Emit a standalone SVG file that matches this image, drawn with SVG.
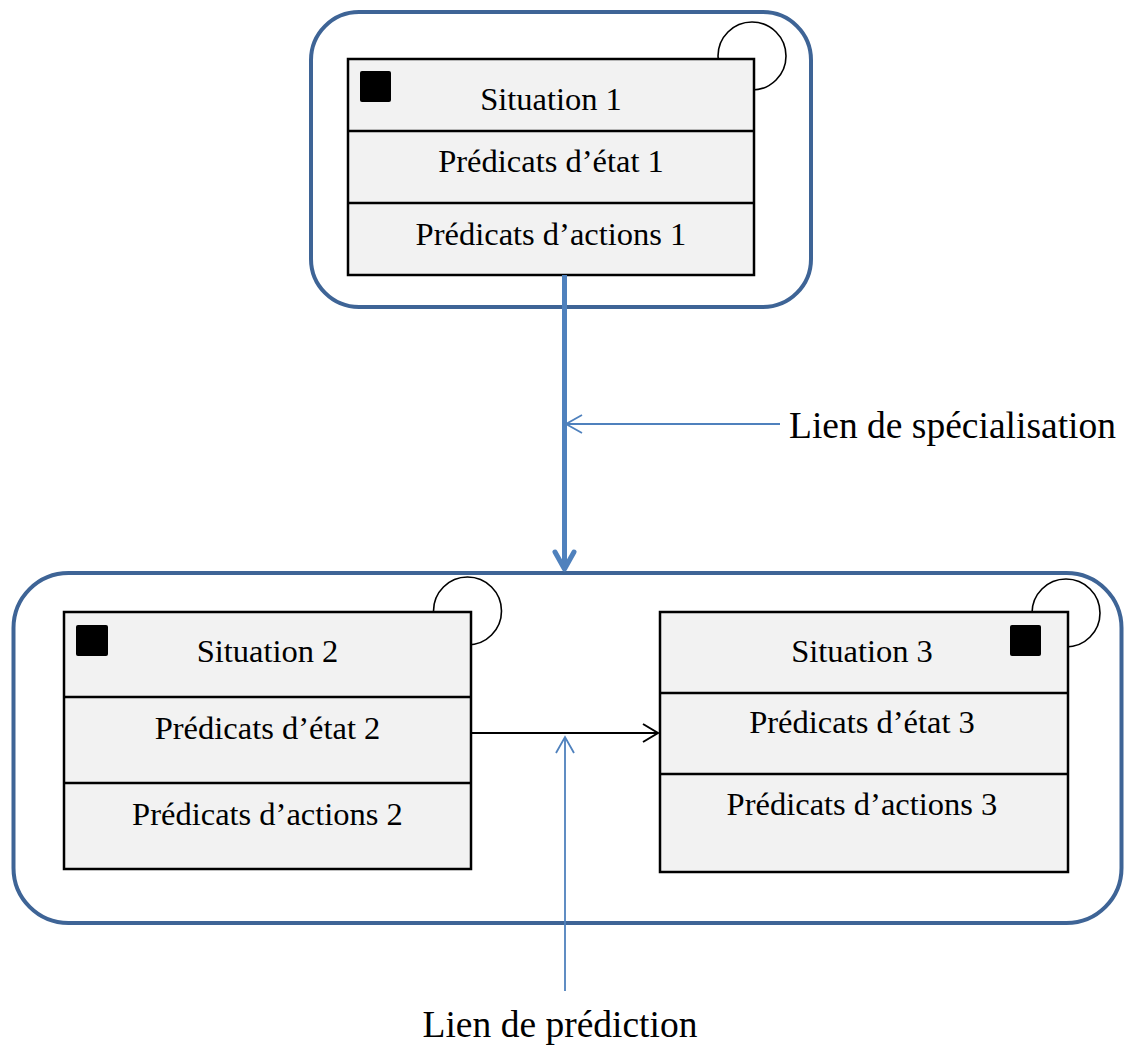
<svg xmlns="http://www.w3.org/2000/svg" width="1128" height="1045" viewBox="0 0 1128 1045">
<style>
.cont{fill:#ffffff;stroke:#3e6496;stroke-width:4}
.box{fill:#f2f2f2;stroke:#000;stroke-width:2.5}
.div{stroke:#000;stroke-width:2.5}
.loop{fill:#ffffff;stroke:#000;stroke-width:1.6}
.mark{fill:#000}
.t{font-family:"Liberation Serif","Times New Roman",serif;font-size:32.5px;fill:#000;text-anchor:middle}
.lbl{font-family:"Liberation Serif","Times New Roman",serif;font-size:37.5px;fill:#000}
.blue{stroke:#4f81bd;fill:none}
</style>
<rect width="1128" height="1045" fill="#ffffff"/>
<g id="container-top">
<rect class="cont" x="311" y="12" width="500" height="295" rx="48"/>
</g>
<g id="container-bottom">
<rect class="cont" x="13.5" y="573" width="1108" height="350" rx="55"/>
</g>
<g id="situation1">
<circle class="loop" cx="752" cy="56" r="34"/>
<rect class="box" x="348" y="59" width="406" height="216"/>
<line class="div" x1="348" y1="131" x2="754" y2="131"/>
<line class="div" x1="348" y1="203" x2="754" y2="203"/>
<rect class="mark" x="360" y="71" width="31" height="31" rx="2"/>
<text class="t" x="551" y="110">Situation 1</text>
<text class="t" x="551" y="172">Prédicats d’état 1</text>
<text class="t" x="551" y="245">Prédicats d’actions 1</text>
</g>
<g id="situation2">
<circle class="loop" cx="467.5" cy="611" r="34"/>
<rect class="box" x="64" y="612" width="407" height="257"/>
<line class="div" x1="64" y1="697" x2="471" y2="697"/>
<line class="div" x1="64" y1="783" x2="471" y2="783"/>
<rect class="mark" x="76" y="625" width="32" height="31" rx="2"/>
<text class="t" x="267.5" y="662">Situation 2</text>
<text class="t" x="267.5" y="739">Prédicats d’état 2</text>
<text class="t" x="267.5" y="825">Prédicats d’actions 2</text>
</g>
<g id="situation3">
<circle class="loop" cx="1066" cy="613" r="34"/>
<rect class="box" x="660" y="612" width="408" height="260"/>
<line class="div" x1="660" y1="693" x2="1068" y2="693"/>
<line class="div" x1="660" y1="774" x2="1068" y2="774"/>
<rect class="mark" x="1010" y="625" width="31" height="31" rx="2"/>
<text class="t" x="862" y="662">Situation 3</text>
<text class="t" x="862" y="733">Prédicats d’état 3</text>
<text class="t" x="862" y="815">Prédicats d’actions 3</text>
</g>
<g id="connectors">
<line class="blue" x1="564.5" y1="275" x2="564.5" y2="568" stroke-width="5"/>
<polyline class="blue" points="555,552 564.5,569 574,552" stroke-width="5" stroke-linejoin="round" stroke-linecap="round"/>
<line class="blue" x1="780" y1="424" x2="566" y2="424" stroke-width="1.8"/>
<polyline class="blue" points="582,415 566,424 582,433" stroke-width="1.8"/>
<line x1="471" y1="733" x2="658" y2="733" stroke="#000" stroke-width="2"/>
<polyline points="643,724 658,733 643,742" fill="none" stroke="#000" stroke-width="2"/>
<line class="blue" x1="565" y1="991" x2="565" y2="738" stroke-width="1.8"/>
<polyline class="blue" points="556,753 565,737 574,753" stroke-width="1.8"/>
</g>
<text class="lbl" x="789" y="438">Lien de spécialisation</text>
<text class="lbl" x="560" y="1037" text-anchor="middle">Lien de prédiction</text>
</svg>
